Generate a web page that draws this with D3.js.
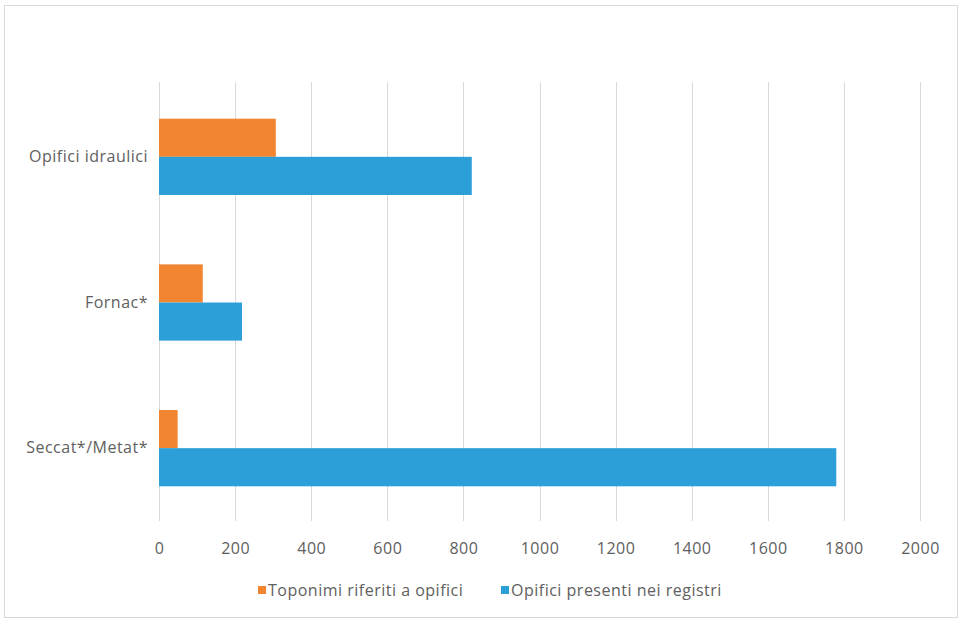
<!DOCTYPE html>
<html>
<head>
<meta charset="utf-8">
<script src="https://cdn.jsdelivr.net/npm/d3@7"></script>
<style>
  html, body { margin: 0; padding: 0; background: #fff; }
  svg text { font-family: "Open Sans", sans-serif; letter-spacing: 0.5px; }
</style>
</head>
<body>
<svg id="chart" width="961" height="621"></svg>
<script>
// Categories, top to bottom
const categories = ["Opifici idraulici", "Fornac*", "Seccat*/Metat*"];
// Series values
const seriesNames = ["Toponimi riferiti a opifici", "Opifici presenti nei registri"];
const toponimi = [307, 115, 49];
const opifici = [822, 218, 1780];
const tickValues = [0, 200, 400, 600, 800, 1000, 1200, 1400, 1600, 1800, 2000];
const colors = ["#F28530", "#2C9FD9"];

const svg = d3.select("#chart");

// outer frame
svg.append("rect")
  .attr("x", 4.5).attr("y", 5.5).attr("width", 953).attr("height", 612)
  .attr("fill", "#fff").attr("stroke", "#d9d9d9").attr("stroke-width", 1);

const plot = { left: 159, right: 920, top: 84, bottom: 521 };

const x = d3.scaleLinear().domain([0, 2000]).range([plot.left, plot.right]);
const y = d3.scaleBand().domain(categories).range([plot.top, plot.bottom]).paddingInner(0).paddingOuter(0);
const groupH = y.bandwidth() / 1.91;
const sub = d3.scaleBand().domain([0, 1]).range([0, groupH]);

// vertical gridlines
svg.append("g")
  .selectAll("line")
  .data(tickValues)
  .join("line")
  .attr("x1", d => Math.round(x(d)) + 0.5).attr("x2", d => Math.round(x(d)) + 0.5)
  .attr("y1", plot.top - 2).attr("y2", plot.bottom)
  .attr("stroke", "#d9d9d9").attr("stroke-width", 1);

// bars
const rows = categories.map((c, i) => ({ cat: c, vals: [toponimi[i], opifici[i]] }));
const groups = svg.append("g").selectAll("g")
  .data(rows)
  .join("g")
  .attr("transform", d => `translate(0,${y(d.cat) + (y.bandwidth() - groupH) / 2})`);

groups.selectAll("rect")
  .data(d => d.vals.map((v, k) => ({ v, k })))
  .join("rect")
  .attr("x", x(0))
  .attr("y", d => sub(d.k))
  .attr("width", d => x(d.v) - x(0))
  .attr("height", sub.bandwidth())
  .attr("fill", d => colors[d.k]);

// x axis labels
const xAxis = d3.axisBottom(x).tickValues(tickValues).tickSize(0).tickPadding(0).tickFormat(d3.format("d"));
const gx = svg.append("g").attr("transform", `translate(0,${plot.bottom + 33})`).call(xAxis);
gx.select(".domain").remove();
gx.selectAll("text").attr("fill", "#606060").attr("font-size", 16).attr("dy", 0)
  .style("font-family", "'Open Sans', sans-serif");

// category labels
const yAxis = d3.axisLeft(y).tickSize(0).tickPadding(11);
const gy = svg.append("g").attr("transform", `translate(${plot.left},0)`).call(yAxis);
gy.select(".domain").remove();
gy.selectAll("text").attr("fill", "#606060").attr("font-size", 16)
  .style("font-family", "'Open Sans', sans-serif");

// legend
const legend = svg.append("g").attr("transform", "translate(0,590)");
const legendX = [258, 501];
seriesNames.forEach((name, i) => {
  const g = legend.append("g").attr("transform", `translate(${legendX[i]},0)`);
  g.append("rect").attr("x", 0).attr("y", -4).attr("width", 8).attr("height", 8).attr("fill", colors[i]);
  g.append("text").attr("x", 10).attr("y", 0).attr("dy", "0.35em")
    .attr("fill", "#606060").attr("font-size", 16).text(name);
});
</script>
</body>
</html>
